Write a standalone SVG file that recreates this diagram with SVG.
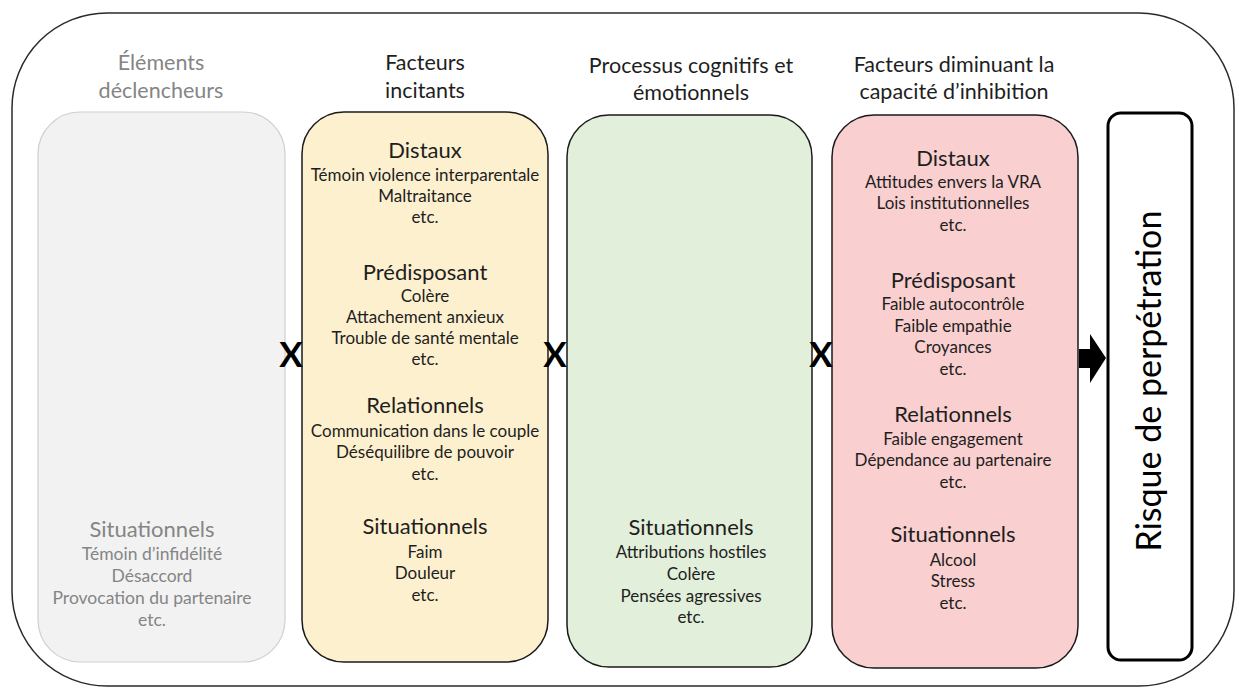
<svg xmlns="http://www.w3.org/2000/svg" width="1239" height="688" viewBox="0 0 1239 688">
<style>
text{font-family:Lato,"Open Sans","Noto Sans",sans-serif;text-anchor:middle;fill:#1e1e1e}
.hd{font-size:21.5px}
.h{font-size:22px}
.i{font-size:17px}
.g{fill:#858585}
.gi{font-size:17.5px}
.box{stroke:#1a1a1a;stroke-width:1.5}
.x{font-size:35px;font-weight:bold;fill:#000}
</style>
<rect width="1239" height="688" fill="#fff"/>
<g id="frame"><rect x="12" y="13" width="1222" height="673" rx="95" fill="none" stroke="#2a2a2a" stroke-width="1.5"/></g>

<g id="declencheurs">
<text class="hd g" x="161" y="70">Éléments</text>
<text class="hd g" x="161" y="98">déclencheurs</text>
<rect x="38" y="112" width="247" height="550" rx="42" fill="#f2f2f2" stroke="#cfcfcf" stroke-width="1.2"/>
<text class="h g" x="152" y="537">Situationnels</text>
<text class="gi g" x="152" y="560">Témoin d’infidélité</text>
<text class="gi g" x="152" y="582">Désaccord</text>
<text class="gi g" x="152" y="604">Provocation du partenaire</text>
<text class="gi g" x="152" y="626">etc.</text>
</g>

<g id="incitants">
<text class="hd" x="425" y="70">Facteurs</text>
<text class="hd" x="425" y="98">incitants</text>
<rect class="box" x="302" y="112" width="246" height="550" rx="42" fill="#fdf0cf"/>
<text class="h" x="425" y="158">Distaux</text>
<text class="i" x="425" y="181">Témoin violence interparentale</text>
<text class="i" x="425" y="202">Maltraitance</text>
<text class="i" x="425" y="223">etc.</text>
<text class="h" x="425" y="280">Prédisposant</text>
<text class="i" x="425" y="302">Colère</text>
<text class="i" x="425" y="323">Attachement anxieux</text>
<text class="i" x="425" y="344">Trouble de santé mentale</text>
<text class="i" x="425" y="365">etc.</text>
<text class="h" x="425" y="413">Relationnels</text>
<text class="i" x="425" y="437">Communication dans le couple</text>
<text class="i" x="425" y="458">Déséquilibre de pouvoir</text>
<text class="i" x="425" y="480">etc.</text>
<text class="h" x="425" y="534">Situationnels</text>
<text class="i" x="425" y="558">Faim</text>
<text class="i" x="425" y="579">Douleur</text>
<text class="i" x="425" y="601">etc.</text>
</g>

<g id="processus">
<text class="hd" x="691" y="73">Processus cognitifs et</text>
<text class="hd" x="691" y="100">émotionnels</text>
<rect class="box" x="567" y="115" width="245" height="552" rx="42" fill="#e2efda"/>
<text class="h" x="691" y="535">Situationnels</text>
<text class="i" x="691" y="558">Attributions hostiles</text>
<text class="i" x="691" y="580">Colère</text>
<text class="i" x="691" y="602">Pensées agressives</text>
<text class="i" x="691" y="623">etc.</text>
</g>

<g id="inhibition">
<text class="hd" x="954" y="72">Facteurs diminuant la</text>
<text class="hd" x="954" y="99">capacité d’inhibition</text>
<rect class="box" x="832" y="115" width="246" height="553" rx="42" fill="#f9cfcf"/>
<text class="h" x="953" y="166">Distaux</text>
<text class="i" x="953" y="188">Attitudes envers la VRA</text>
<text class="i" x="953" y="209">Lois institutionnelles</text>
<text class="i" x="953" y="231">etc.</text>
<text class="h" x="953" y="288">Prédisposant</text>
<text class="i" x="953" y="310">Faible autocontrôle</text>
<text class="i" x="953" y="332">Faible empathie</text>
<text class="i" x="953" y="353">Croyances</text>
<text class="i" x="953" y="375">etc.</text>
<text class="h" x="953" y="422">Relationnels</text>
<text class="i" x="953" y="445">Faible engagement</text>
<text class="i" x="953" y="466">Dépendance au partenaire</text>
<text class="i" x="953" y="488">etc.</text>
<text class="h" x="953" y="542">Situationnels</text>
<text class="i" x="953" y="566">Alcool</text>
<text class="i" x="953" y="587">Stress</text>
<text class="i" x="953" y="609">etc.</text>
</g>

<g id="risque">
<rect x="1108" y="113" width="84" height="547" rx="13" fill="#fff" stroke="#000" stroke-width="3"/>
<text x="1161" y="381" transform="rotate(-90 1161 381)" style="font-size:34px;fill:#000">Risque de perpétration</text>
</g>

<g id="connectors">
<text class="x" x="291" y="367">X</text>
<text class="x" x="555" y="367">X</text>
<text class="x" x="821" y="367">X</text>
<polygon points="1079,349 1090,349 1090,334 1106,358 1090,383 1090,368 1079,368" fill="#000"/>
</g>
</svg>
